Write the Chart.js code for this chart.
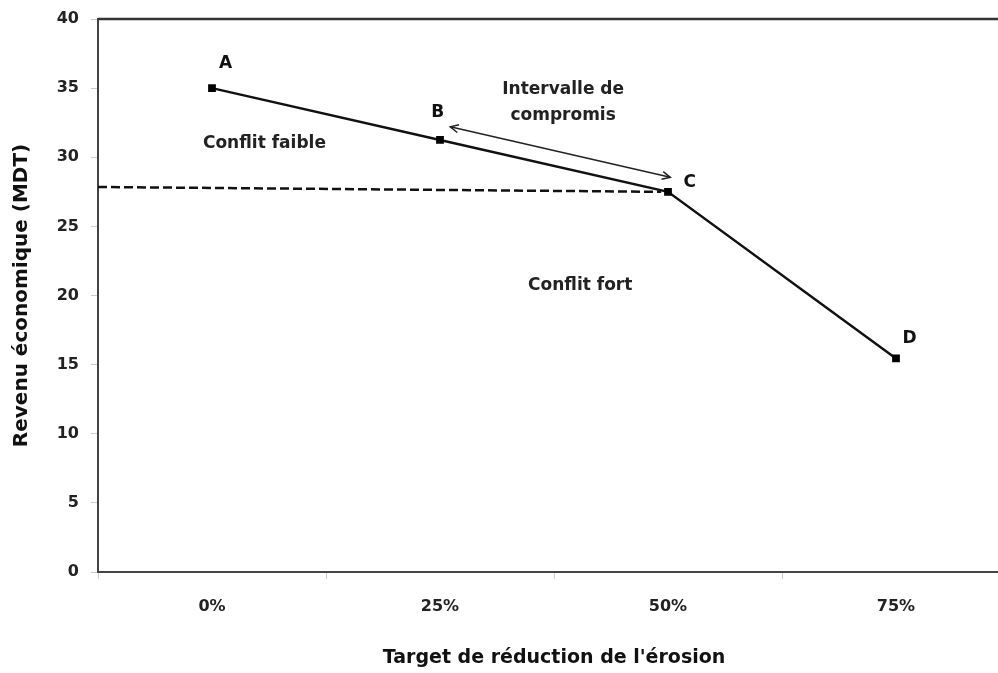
<!DOCTYPE html>
<html>
<head>
<meta charset="utf-8">
<script src="https://cdn.jsdelivr.net/npm/chart.js@4.4.1/dist/chart.umd.min.js"></script>
<style>
  html, body { margin: 0; padding: 0; background: #fff; overflow: hidden; width: 998px; height: 673px; }
  #wrap { width: 1018px; height: 673px; }
</style>
</head>
<body>
<div id="wrap"><canvas id="chart" width="1018" height="673"></canvas></div>
<script>
// categories and values
const targets = ['0%', '25%', '50%', '75%'];
const revenu = [35, 31.25, 27.5, 15.45];
const pointNames = ['A', 'B', 'C', 'D'];
const yTicks = [0, 5, 10, 15, 20, 25, 30, 35, 40];

// annotations, in data units (x = category index, y = revenu)
const nameOffsetsX = [0.06, -0.01, 0.095, 0.06];
const nameOffsetsY = [1.8, 1.95, 0.7, 1.45];
const notes = ['Conflit faible', 'Intervalle de', 'compromis', 'Conflit fort'];
const notesX = [0.23, 1.54, 1.54, 1.615];
const notesY = [31.0, 34.9, 33.0, 20.75];
const dashX = [-0.5, 1.97];
const dashY = [27.85, 27.5];
const arrowX = [1.045, 2.01];
const arrowY = [32.2, 28.55];

const FONT = '"DejaVu Sans", Verdana, sans-serif';

const extras = {
  id: 'extras',
  afterDatasetsDraw(chart) {
    const ctx = chart.ctx;
    const xs = chart.scales.x, ys = chart.scales.y;
    const area = chart.chartArea;
    ctx.save();
    // frame
    ctx.strokeStyle = '#333';
    ctx.lineWidth = 2.5;
    ctx.beginPath();
    ctx.moveTo(area.left, area.top);
    ctx.lineTo(area.right, area.top);
    ctx.lineTo(area.right, area.bottom);
    ctx.stroke();

    // dashed level line
    ctx.strokeStyle = '#111';
    ctx.lineWidth = 2.5;
    ctx.setLineDash([9, 4]);
    ctx.beginPath();
    ctx.moveTo(xs.getPixelForValue(dashX[0]), ys.getPixelForValue(dashY[0]));
    ctx.lineTo(xs.getPixelForValue(dashX[1]), ys.getPixelForValue(dashY[1]));
    ctx.stroke();
    ctx.setLineDash([]);

    // double arrow
    const x1 = xs.getPixelForValue(arrowX[0]), y1 = ys.getPixelForValue(arrowY[0]);
    const x2 = xs.getPixelForValue(arrowX[1]), y2 = ys.getPixelForValue(arrowY[1]);
    ctx.strokeStyle = '#222';
    ctx.lineWidth = 1.5;
    ctx.beginPath();
    ctx.moveTo(x1, y1);
    ctx.lineTo(x2, y2);
    ctx.stroke();
    const ang = Math.atan2(y2 - y1, x2 - x1);
    const head = (x, y, a) => {
      ctx.beginPath();
      ctx.moveTo(x - 9 * Math.cos(a - 0.45), y - 9 * Math.sin(a - 0.45));
      ctx.lineTo(x, y);
      ctx.lineTo(x - 9 * Math.cos(a + 0.45), y - 9 * Math.sin(a + 0.45));
      ctx.stroke();
    };
    head(x2, y2, ang);
    head(x1, y1, ang + Math.PI);

    // point names
    ctx.fillStyle = '#111';
    ctx.textAlign = 'center';
    ctx.textBaseline = 'middle';
    ctx.font = 'bold 17px ' + FONT;
    pointNames.forEach((n, i) => {
      ctx.fillText(n, xs.getPixelForValue(i + nameOffsetsX[i]), ys.getPixelForValue(revenu[i] + nameOffsetsY[i]));
    });

    // text notes
    ctx.fillStyle = '#222';
    ctx.font = 'bold 17px ' + FONT;
    notes.forEach((t, i) => {
      ctx.fillText(t, xs.getPixelForValue(notesX[i]), ys.getPixelForValue(notesY[i]));
    });
    ctx.restore();
  }
};

new Chart(document.getElementById('chart'), {
  type: 'line',
  data: {
    labels: targets,
    datasets: [{
      data: revenu,
      borderColor: '#111',
      backgroundColor: '#000',
      borderWidth: 2.5,
      pointStyle: 'rect',
      pointRadius: 5.5,
      pointBorderWidth: 0,
      tension: 0,
      fill: false
    }]
  },
  options: {
    responsive: false,
    animation: false,
    layout: { padding: { top: 19, right: 8, left: 0, bottom: 0 } },
    plugins: {
      legend: { display: false },
      tooltip: { enabled: false }
    },
    scales: {
      x: {
        offset: true,
        grid: {
          offset: true,
          drawOnChartArea: false,
          tickLength: 7,
          color: '#ccc'
        },
        border: { color: '#444', width: 2 },
        ticks: {
          color: '#222',
          padding: 18,
          font: { family: FONT, size: 16, weight: 'bold' }
        },
        title: {
          display: true,
          text: "Target de réduction de l'érosion",
          color: '#111',
          padding: { top: 25 },
          font: { family: FONT, size: 19, weight: 'bold' }
        },
        afterFit(scale) { scale.height = 101; }
      },
      y: {
        min: 0,
        max: 40,
        afterBuildTicks(scale) { scale.ticks = yTicks.map(v => ({ value: v })); },
        grid: {
          drawOnChartArea: false,
          tickLength: 7,
          color: '#ccc'
        },
        border: { color: '#444', width: 2 },
        ticks: {
          color: '#222',
          padding: 12,
          font: { family: FONT, size: 16, weight: 'bold' }
        },
        title: {
          display: true,
          text: 'Revenu économique (MDT)',
          color: '#111',
          padding: { top: 10, bottom: 0 },
          font: { family: FONT, size: 20, weight: 'bold' }
        },
        afterFit(scale) {
          scale.width = 98;
          scale.paddingTop = 0;
          scale.paddingBottom = 0;
        }
      }
    }
  },
  plugins: [extras]
});
</script>
</body>
</html>
